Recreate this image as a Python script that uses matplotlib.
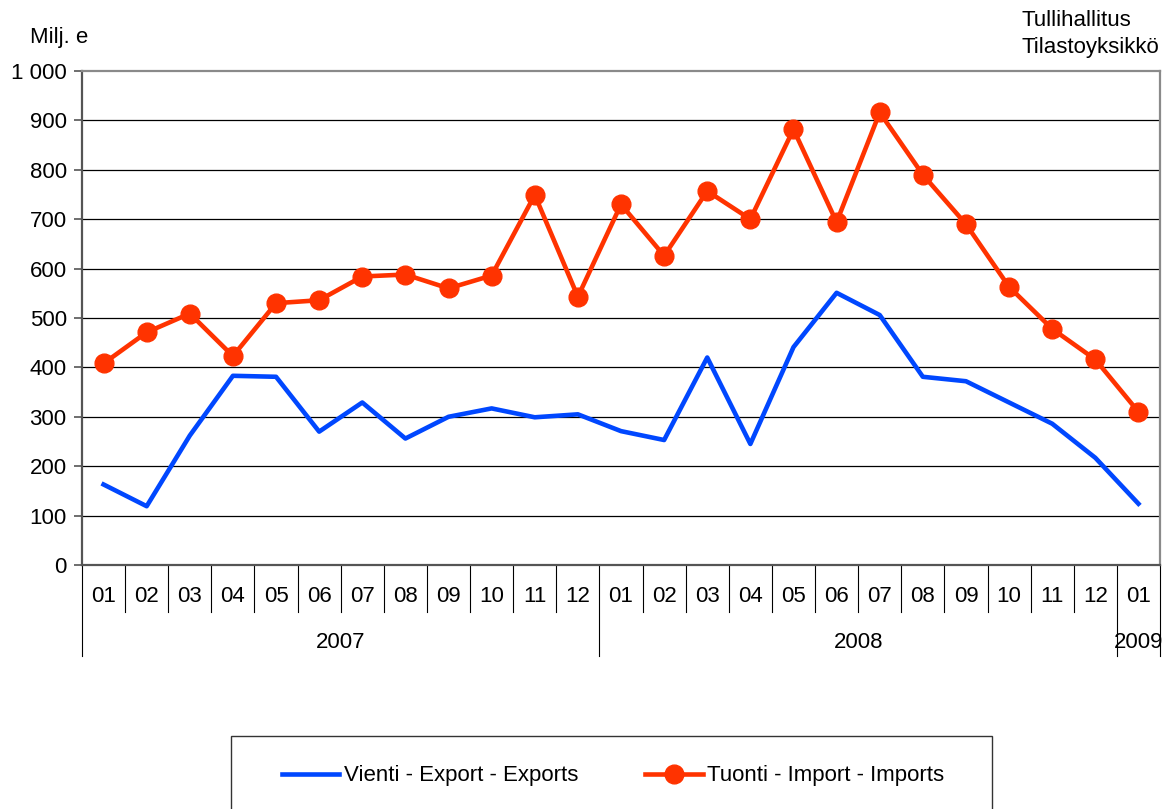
import numpy as np
import matplotlib
matplotlib.use("Agg")
import matplotlib.pyplot as plt
from matplotlib.patches import Rectangle

plt.rcParams['font.family'] = ['Liberation Sans', 'DejaVu Sans']

# monthly foreign trade, million euro
months = ["01", "02", "03", "04", "05", "06", "07", "08", "09", "10", "11", "12",
          "01", "02", "03", "04", "05", "06", "07", "08", "09", "10", "11", "12",
          "01"]
years = ["2007", "2008", "2009"]
year_len = [12, 12, 1]

exports = [163, 119, 262, 383, 381, 270, 329, 256, 300, 317, 299, 305,
           271, 253, 420, 245, 441, 551, 506, 381, 372, 329, 286, 217,
           124]
imports = [408, 471, 509, 423, 530, 536, 584, 588, 560, 586, 749, 543,
           730, 626, 757, 700, 882, 694, 916, 790, 690, 563, 478, 416,
           310]

yticks = list(range(0, 1001, 100))

W, H = 1162, 809
fs = 16
fig = plt.figure(figsize=(W / 100, H / 100), dpi=100)
ax = fig.add_axes([82 / W, 1 - 565 / H, (1160 - 82) / W, (565 - 71) / H])

x = np.arange(len(months))
for v in yticks[1:-1]:
    ax.axhline(v, color='black', lw=0.9, zorder=1)

l1, = ax.plot(x, exports, color='#0047ff', lw=3.3, zorder=3,
              label="Vienti - Export - Exports")
l2, = ax.plot(x, imports, color='#ff3300', lw=3.3, marker='o', ms=13.5, zorder=4,
              label="Tuonti - Import - Imports")

ax.set_xlim(-0.5, len(months) - 0.5)
ax.set_ylim(0, 1000)
ax.set_yticks(yticks)
ax.set_yticklabels([f"{v:,}".replace(",", " ") for v in yticks])
ax.set_xticks([])
ax.tick_params(axis='y', length=6, width=1.2, color='#555555', labelsize=fs, pad=5)

for side in ['left', 'bottom']:
    ax.spines[side].set_color('#555555')
    ax.spines[side].set_linewidth(1.6)
for side in ['top', 'right']:
    ax.spines[side].set_color('#8a8a8a')
    ax.spines[side].set_linewidth(1.6)

# two-level category axis
trans = ax.get_xaxis_transform()
hpx = 565 - 71
bounds = np.cumsum([0] + year_len) - 0.5
for b in np.arange(len(months) + 1) - 0.5:
    ylow = -91 / hpx if b in bounds else -47 / hpx
    ax.plot([b, b], [0, ylow], transform=trans, color='black', lw=0.8, clip_on=False)
for i, m in enumerate(months):
    ax.text(i, -32 / hpx, m, transform=trans, ha='center', va='center', fontsize=fs)
for i, yr in enumerate(years):
    ax.text((bounds[i] + bounds[i + 1]) / 2, -77 / hpx, yr, transform=trans,
            ha='center', va='center', fontsize=fs)

fig.text(30 / W, 1 - 38 / H, "Milj. e", ha='left', va='center', fontsize=fs)
fig.text(1022 / W, 1 - 21 / H, "Tullihallitus", ha='left', va='center', fontsize=fs)
fig.text(1022 / W, 1 - 47 / H, "Tilastoyksikkö", ha='left', va='center', fontsize=fs)

fig.patches.append(Rectangle((231 / W, -0.02), (992 - 231) / W, (809 - 736) / H + 0.02,
                             transform=fig.transFigure, fill=False,
                             edgecolor='#333333', lw=1))
fig.legend(handles=[l1, l2], loc='center', bbox_to_anchor=(613 / W, 1 - 776 / H),
           ncol=2, frameon=False, handlelength=2.6, handletextpad=0.2,
           columnspacing=3.0, fontsize=fs)

fig.savefig("out.png", dpi=100)
